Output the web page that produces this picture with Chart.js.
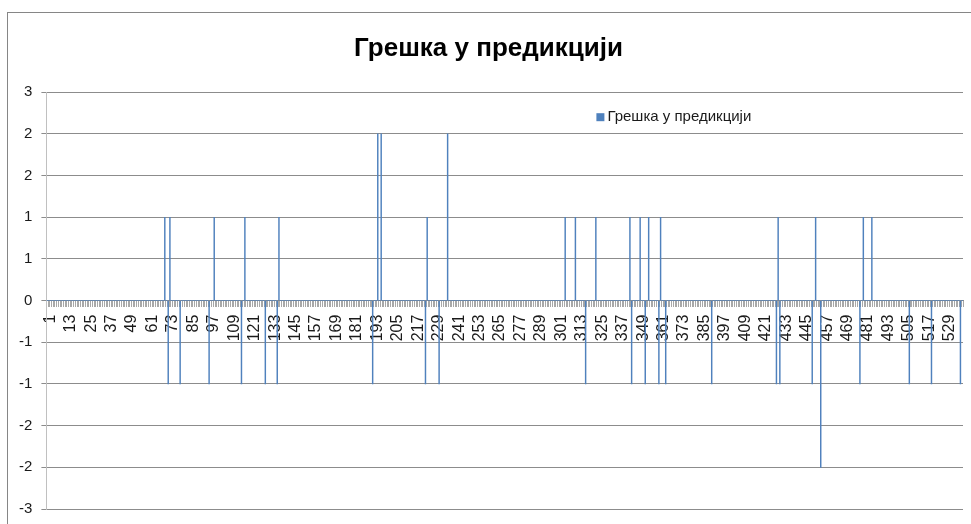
<!DOCTYPE html>
<html>
<head>
<meta charset="utf-8">
<title>Грешка у предикцији</title>
<script src="https://cdn.jsdelivr.net/npm/chart.js@4.4.1/dist/chart.umd.min.js"></script>
<style>
  html, body { margin: 0; padding: 0; background: #fff; overflow: hidden; }
  #wrap { width: 971px; height: 524px; }
</style>
</head>
<body>
<div id="wrap"><canvas id="errChart" width="971" height="524"></canvas></div>
<script>
// number of test samples on the x axis
const sampleCount = 538;

// samples where the prediction missed, and by how much
const errorPos = [70, 72, 73, 79, 96, 99, 115, 117, 129, 136, 137,
                  192, 195, 197, 223, 224, 231, 236,
                  305, 311, 317, 323, 343, 344, 349, 352, 354, 360, 361, 364,
                  391, 429, 430, 431, 450, 452, 455, 478, 480, 485,
                  507, 520, 537];
const errorVal = [1, -1, 1, -1, -1, 1, -1, 1, -1, -1, 1,
                  -1, 2, 2, -1, 1, -1, 2,
                  1, 1, -1, 1, 1, -1, 1, -1, 1, -1, 1, -1,
                  -1, -1, 1, -1, -1, 1, -2, -1, 1, 1,
                  -1, -1, -1];

const seriesName = 'Грешка у предикцији';
const labelEvery = 12;

// category labels 1..N and the full series (0 where the prediction was right)
const categories = [];
for (let i = 1; i <= sampleCount; i++) categories.push(String(i));
const values = categories.map((c, i) => {
    const k = errorPos.indexOf(i + 1);
    return k >= 0 ? errorVal[k] : 0;
});

const barColor = '#4F81BD';
const gridColor = '#8C8C8C';
const textColor = '#1a1a1a';
const fontFamily = "'Liberation Sans', Arial, sans-serif";

// white background + outer frame like the spreadsheet chart box
const frame = {
    id: 'frame',
    beforeDraw(chart) {
        const ctx = chart.ctx;
        ctx.save();
        ctx.fillStyle = '#ffffff';
        ctx.fillRect(0, 0, chart.width, chart.height);
        ctx.strokeStyle = '#868686';
        ctx.lineWidth = 1;
        ctx.strokeRect(7.5, 12.5, chart.width + 20, chart.height + 20);
        ctx.restore();
    }
};

// legend sits inside the plot, upper right
const innerLegend = {
    id: 'innerLegend',
    afterDraw(chart) {
        const ctx = chart.ctx;
        const area = chart.chartArea;
        const x = area.left + 550;
        const y = area.top + 25;
        ctx.save();
        ctx.fillStyle = chart.data.datasets[0].backgroundColor;
        ctx.fillRect(x, y - 4, 8, 8);
        ctx.fillStyle = textColor;
        ctx.font = '15px ' + fontFamily;
        ctx.textBaseline = 'middle';
        ctx.textAlign = 'left';
        ctx.fillText(chart.data.datasets[0].label, x + 11, y);
        ctx.restore();
    }
};

new Chart(document.getElementById('errChart'), {
    type: 'bar',
    data: {
        labels: categories,
        datasets: [{
            label: seriesName,
            data: values,
            backgroundColor: barColor,
            borderWidth: 0,
            barThickness: 0.8
        }]
    },
    options: {
        responsive: false,
        animation: false,
        layout: {
            padding: { top: 0, left: 14, right: 8, bottom: 15 }
        },
        plugins: {
            legend: { display: false },
            tooltip: { enabled: false },
            title: {
                display: true,
                text: seriesName,
                color: '#000',
                font: { family: fontFamily, size: 26, weight: 'bold', lineHeight: 1.2 },
                padding: { top: 33, bottom: 28 }
            }
        },
        scales: {
            x: {
                position: { y: 0 },
                offset: true,
                afterFit: (scale) => { scale.paddingLeft = 0; scale.paddingRight = 0; scale.paddingTop = 0; scale.paddingBottom = 0; },
                grid: {
                    drawOnChartArea: false,
                    drawTicks: true,
                    tickLength: 6,
                    color: '#a8a8a8',
                    offset: true
                },
                border: { display: true, color: gridColor },
                ticks: {
                    autoSkip: false,
                    minRotation: 90,
                    maxRotation: 90,
                    padding: 8,
                    labelOffset: 3,
                    color: textColor,
                    font: { family: fontFamily, size: 16 },
                    callback: (v, i) => (i % labelEvery === 0 ? categories[i] : '')
                }
            },
            y: {
                min: -2.5,
                max: 2.5,
                afterFit: (scale) => { scale.width = 32.4; scale.paddingTop = 0; scale.paddingBottom = 0; },
                grid: {
                    color: gridColor,
                    drawTicks: true,
                    tickLength: 5
                },
                border: { display: true, color: '#C0C0C0' },
                ticks: {
                    stepSize: 0.5,
                    padding: 9,
                    color: textColor,
                    font: { family: fontFamily, size: 15 },
                    // whole-number format, halves rounded away from zero
                    callback: (v) => String((v < 0 ? -1 : 1) * Math.round(Math.abs(v)))
                }
            }
        }
    },
    plugins: [frame, innerLegend]
});
</script>
</body>
</html>
